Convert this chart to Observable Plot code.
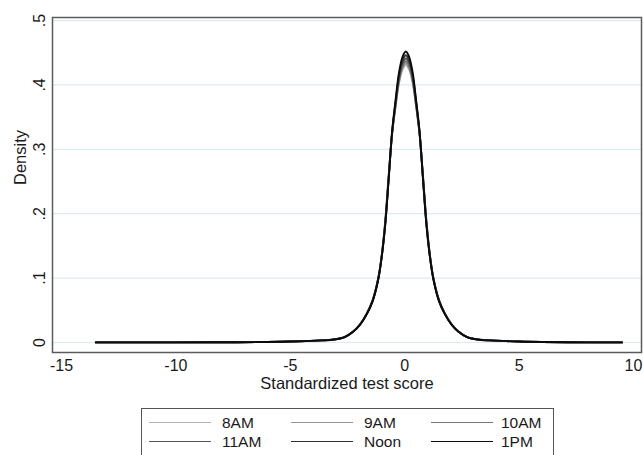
<!DOCTYPE html>
<html>
<head>
<meta charset="utf-8">
<script src="https://cdn.jsdelivr.net/npm/d3@7"></script>
<script src="https://cdn.jsdelivr.net/npm/@observablehq/plot@0.6"></script>
<style>
  body { margin: 0; background: #fff; }
  #wrap { position: relative; width: 643px; height: 455px; overflow: hidden; font-family: "Liberation Sans", Arial, sans-serif; }
  #legend { position: absolute; left: 141px; top: 408px; width: 413px; height: 70px; border: 1px solid #555; box-sizing: border-box; background: #fff; }
  .key { position: absolute; height: 0; border-top-style: solid; }
  .lab { position: absolute; font-size: 15.5px; color: #1a1a1a; line-height: 1; }
</style>
</head>
<body>
<div id="wrap"><div id="chart"></div><div id="legend"></div></div>
<script>
// ---- data ----
const seriesNames = ["8AM", "9AM", "10AM", "11AM", "Noon", "1PM"];
const xs = [-13.5, -10, -8, -6, -5, -3.85, -3.15, -2.65, -2.25, -1.95, -1.65, -1.4, -1.15, -1.0, -0.85, -0.7, -0.55, -0.4, -0.25, -0.1,
            0.05, 0.2, 0.35, 0.5, 0.65, 0.8, 0.95, 1.1, 1.25, 1.5, 1.75, 2.05, 2.35, 2.75, 3.25, 3.95, 5, 6, 8, 9.5];
const d8AM  = [0.0002, 0.0003, 0.0004, 0.0008, 0.0015, 0.003, 0.0046, 0.0082, 0.0173, 0.0285, 0.0458, 0.0662, 0.1015, 0.137, 0.19, 0.26, 0.324, 0.366, 0.402, 0.423,
               0.431, 0.423, 0.402, 0.366, 0.324, 0.26, 0.19, 0.137, 0.1015, 0.0662, 0.0458, 0.0285, 0.0173, 0.0082, 0.0046, 0.003, 0.0015, 0.0008, 0.0003, 0.0002];
const d9AM  = [0.0002, 0.0003, 0.0004, 0.0008, 0.0015, 0.003, 0.0046, 0.0081, 0.0172, 0.0283, 0.0455, 0.0658, 0.101, 0.136, 0.188, 0.258, 0.324, 0.367, 0.405, 0.426,
               0.434, 0.426, 0.405, 0.367, 0.324, 0.258, 0.188, 0.136, 0.101, 0.0658, 0.0455, 0.0283, 0.0172, 0.0081, 0.0046, 0.003, 0.0015, 0.0008, 0.0003, 0.0002];
const d10AM = [0.0002, 0.0003, 0.0004, 0.0008, 0.0015, 0.003, 0.0045, 0.0081, 0.0171, 0.0282, 0.0452, 0.0654, 0.1005, 0.1355, 0.187, 0.257, 0.325, 0.369, 0.407, 0.429,
               0.437, 0.429, 0.407, 0.369, 0.325, 0.257, 0.187, 0.1355, 0.1005, 0.0654, 0.0452, 0.0282, 0.0171, 0.0081, 0.0045, 0.003, 0.0015, 0.0008, 0.0003, 0.0002];
const d11AM = [0.0002, 0.0003, 0.0004, 0.0008, 0.0015, 0.003, 0.0045, 0.008, 0.017, 0.028, 0.045, 0.065, 0.10, 0.135, 0.185, 0.255, 0.325, 0.37, 0.41, 0.433,
               0.441, 0.433, 0.41, 0.37, 0.325, 0.255, 0.185, 0.135, 0.10, 0.065, 0.045, 0.028, 0.017, 0.008, 0.0045, 0.003, 0.0015, 0.0008, 0.0003, 0.0002];
const dNoon = [0.0002, 0.0003, 0.0004, 0.0008, 0.0015, 0.003, 0.0045, 0.008, 0.0169, 0.0278, 0.0448, 0.0647, 0.0995, 0.1345, 0.184, 0.255, 0.326, 0.373, 0.414, 0.437,
               0.446, 0.437, 0.414, 0.373, 0.326, 0.255, 0.184, 0.1345, 0.0995, 0.0647, 0.0448, 0.0278, 0.0169, 0.008, 0.0045, 0.003, 0.0015, 0.0008, 0.0003, 0.0002];
const d1PM  = [0.0002, 0.0003, 0.0004, 0.0008, 0.0015, 0.003, 0.0044, 0.0079, 0.0168, 0.0276, 0.0445, 0.0643, 0.099, 0.134, 0.183, 0.254, 0.328, 0.376, 0.419, 0.443,
               0.452, 0.443, 0.419, 0.376, 0.328, 0.254, 0.183, 0.134, 0.099, 0.0643, 0.0445, 0.0276, 0.0168, 0.0079, 0.0044, 0.003, 0.0015, 0.0008, 0.0003, 0.0002];
const seriesValues = [d8AM, d9AM, d10AM, d11AM, dNoon, d1PM];
const xTicks = [-15, -10, -5, 0, 5, 10];
const xTickLabels = ["-15", "-10", "-5", "0", "5", "10"];
const yTicks = [0, 0.1, 0.2, 0.3, 0.4, 0.5];
const yTickLabels = ["0", ".1", ".2", ".3", ".4", ".5"];
const xTitle = "Standardized test score";
const yTitle = "Density";

// ---- styles ----
const seriesColors = ["#b4b4b4", "#959595", "#767676", "#555555", "#333333", "#0a0a0a"];

const rows = [];
seriesNames.forEach((s, k) => xs.forEach((x, i) => rows.push({series: s, x, y: seriesValues[k][i]})));

const chart = Plot.plot({
  width: 643, height: 400,
  marginLeft: 52, marginRight: 2, marginTop: 17, marginBottom: 48,
  x: {domain: [-15.393, 10.35]},
  y: {domain: [-0.0155, 0.5047]},
  color: {domain: seriesNames, range: seriesColors},
  style: {fontFamily: "'Liberation Sans', Arial, sans-serif", fontSize: "16px", color: "#1a1a1a", background: "#fff"},
  marks: [
    Plot.gridY(yTicks, {stroke: "#dcebef", strokeOpacity: 1, strokeWidth: 1.2}),
    Plot.line(rows, {x: "x", y: "y", z: "series", stroke: "series", strokeWidth: 1.9, curve: "catmull-rom"}),
    Plot.frame({stroke: "#5b5b5b", strokeWidth: 1.5}),
    Plot.axisX(xTicks, {tickSize: 0, tickPadding: 7, tickFormat: d => xTickLabels[xTicks.indexOf(d)], label: null, fontSize: 16}),
    Plot.axisY(yTicks, {tickSize: 0, tickPadding: 8, tickRotate: -90, tickFormat: d => yTickLabels[yTicks.indexOf(d)], label: null, fontSize: 16}),
    Plot.text([xTitle], {frameAnchor: "bottom", dy: 31, lineAnchor: "middle", fontSize: 16.5, fill: "#1a1a1a"}),
    Plot.text([yTitle], {frameAnchor: "left", dx: -32, rotate: -90, lineAnchor: "middle", fontSize: 16.5, fill: "#1a1a1a"})
  ]
});
document.getElementById("chart").appendChild(chart);

// legend
const legend = document.getElementById("legend");
const colKeyLeft = [7, 149, 289];
const colLabLeft = [80, 222, 359];
const rowY = [14, 33];
seriesNames.forEach((s, k) => {
  const c = k % 3, r = Math.floor(k / 3);
  const key = document.createElement("div");
  key.className = "key";
  key.style.left = colKeyLeft[c] + "px";
  key.style.width = "62px";
  key.style.top = (rowY[r] - 0.75) + "px";
  key.style.borderTopWidth = "1.5px";
  key.style.borderTopColor = seriesColors[k];
  legend.appendChild(key);
  const lab = document.createElement("div");
  lab.className = "lab";
  lab.textContent = s;
  lab.style.left = colLabLeft[c] + "px";
  lab.style.top = (rowY[r] - 8) + "px";
  legend.appendChild(lab);
});
</script>
</body>
</html>
